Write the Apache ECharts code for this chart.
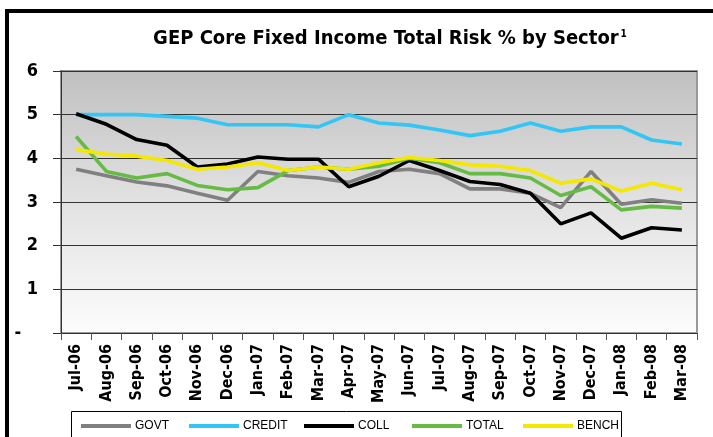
<!DOCTYPE html>
<html>
<head>
<meta charset="utf-8">
<script src="https://cdn.jsdelivr.net/npm/echarts@6/dist/echarts.min.js"></script>
<style>
  html, body { margin: 0; padding: 0; background: #fff; }
  #chart { width: 713px; height: 437px; }
</style>
</head>
<body>
<div id="chart"></div>
<script>
var months = ["Jul-06", "Aug-06", "Sep-06", "Oct-06", "Nov-06", "Dec-06", "Jan-07", "Feb-07", "Mar-07", "Apr-07", "May-07",
  "Jun-07", "Jul-07", "Aug-07", "Sep-07", "Oct-07", "Nov-07", "Dec-07", "Jan-08", "Feb-08", "Mar-08"];

var govt   = [3.75, 3.60, 3.46, 3.37, 3.20, 3.04, 3.70, 3.60, 3.55, 3.45, 3.70, 3.75, 3.65, 3.30, 3.30, 3.20, 2.87, 3.70, 2.95, 3.05, 2.97];
var credit = [5.00, 5.00, 5.00, 4.96, 4.92, 4.77, 4.77, 4.77, 4.72, 5.00, 4.81, 4.76, 4.65, 4.52, 4.62, 4.81, 4.62, 4.72, 4.72, 4.42, 4.33];
var coll   = [5.02, 4.78, 4.43, 4.30, 3.80, 3.87, 4.03, 3.98, 3.98, 3.35, 3.59, 3.95, 3.72, 3.47, 3.40, 3.20, 2.50, 2.75, 2.17, 2.41, 2.36];
var total  = [4.50, 3.70, 3.55, 3.65, 3.38, 3.28, 3.33, 3.72, 3.80, 3.75, 3.82, 4.00, 3.90, 3.65, 3.65, 3.55, 3.15, 3.35, 2.82, 2.90, 2.86];
var bench  = [4.20, 4.10, 4.05, 3.95, 3.75, 3.80, 3.90, 3.72, 3.80, 3.75, 3.90, 4.02, 3.95, 3.85, 3.82, 3.72, 3.43, 3.53, 3.25, 3.43, 3.28];

var seriesNames = ["GOVT", "CREDIT", "COLL", "TOTAL", "BENCH"];
var seriesData = [govt, credit, coll, total, bench];
var colors = ["#808080", "#33c6f4", "#000000", "#66bb44", "#f5e800"];
var legendLeft = [81, 189, 304, 412, 523];

var condensed = "'DejaVu Sans Condensed', 'DejaVu Sans', sans-serif";
var narrow = "'Liberation Sans Narrow', 'Liberation Sans', sans-serif";

var chart = echarts.init(document.getElementById("chart"));

var series = seriesNames.map(function(name, i) {
  return {
    name: name,
    type: "line",
    data: seriesData[i],
    symbol: "none",
    lineStyle: { color: colors[i], width: 3.6 },
    itemStyle: { color: colors[i] },
    z: 2 + i
  };
});

var legends = seriesNames.map(function(name, i) {
  return {
    data: [name],
    left: legendLeft[i],
    top: 420,
    icon: "rect",
    itemWidth: 50,
    itemHeight: 4,
    itemGap: 0,
    padding: 0,
    textStyle: { fontFamily: narrow, fontSize: 12, color: "#000", padding: [0, 0, 0, -1] },
    selectedMode: false
  };
});

chart.setOption({
  animation: false,
  backgroundColor: "#fff",
  title: {
    text: "GEP Core Fixed Income Total Risk % by Sector{sup|1}",
    left: 385,
    textAlign: "center",
    top: 24,
    textStyle: {
      fontFamily: condensed,
      fontSize: 20,
      fontWeight: "bold",
      color: "#000",
      rich: {
        sup: { fontFamily: condensed, fontSize: 10, fontWeight: "bold", verticalAlign: "top", padding: [0, 0, 10, 2] }
      }
    }
  },
  legend: legends,
  grid: {
    left: 61,
    right: 16,
    top: 71,
    bottom: 104,
    show: true,
    borderColor: "#999",
    borderWidth: 2,
    backgroundColor: {
      type: "linear", x: 0, y: 0, x2: 0, y2: 1,
      colorStops: [
        { offset: 0, color: "#c0c0c0" },
        { offset: 0.5, color: "#e2e2e2" },
        { offset: 1, color: "#fcfcfc" }
      ]
    }
  },
  xAxis: {
    type: "category",
    data: months,
    boundaryGap: true,
    axisLine: { show: true, lineStyle: { color: "#333", width: 1 } },
    axisTick: { show: true, length: 7, lineStyle: { color: "#555" } },
    axisLabel: {
      rotate: 90,
      interval: 0,
      margin: 11,
      fontFamily: condensed,
      fontWeight: "bold",
      fontSize: 16,
      color: "#000"
    }
  },
  yAxis: {
    type: "value",
    min: 0,
    max: 6,
    interval: 1,
    axisLine: { show: true, lineStyle: { color: "#333", width: 1 } },
    axisTick: { show: true, length: 8, lineStyle: { color: "#333" } },
    splitLine: { show: true, lineStyle: { color: "#333", width: 1 } },
    axisLabel: {
      margin: 23,
      fontFamily: condensed,
      fontWeight: "bold",
      fontSize: 18,
      color: "#000",
      formatter: function(v) { return v === 0 ? "-   " : String(v); }
    }
  },
  graphic: [
    { type: "rect", shape: { x: 71.5, y: 411.5, width: 550, height: 40 }, style: { fill: "none", stroke: "#000", lineWidth: 1 }, z: 0 },
    { type: "line", shape: { x1: 7, y1: 9, x2: 7, y2: 437 }, style: { stroke: "#000", lineWidth: 4 } },
    { type: "line", shape: { x1: 5, y1: 11, x2: 713, y2: 11 }, style: { stroke: "#000", lineWidth: 4 } }
  ],
  series: series
});
</script>
</body>
</html>
